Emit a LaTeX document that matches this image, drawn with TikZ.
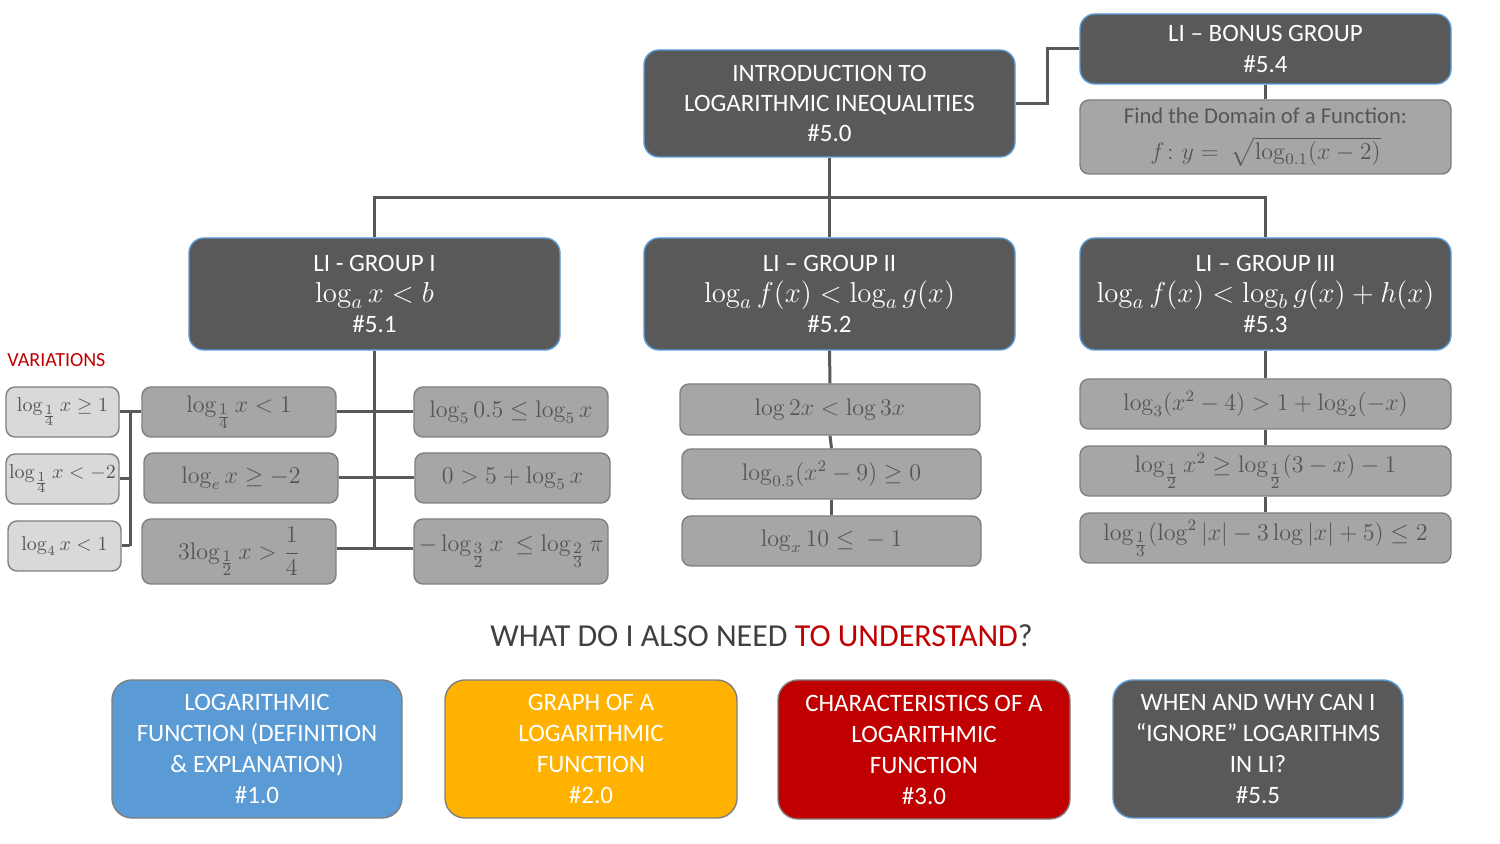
\documentclass[tikz,border=0pt]{standalone}
\usepackage{amsmath}
\usepackage[no-math]{fontspec}
\setmainfont{Carlito}
\definecolor{dk}{HTML}{595959}
\definecolor{edgeblue}{HTML}{5B9BD5}
\definecolor{midgray}{HTML}{A6A6A6}
\definecolor{lightgray}{HTML}{D9D9D9}
\definecolor{bordergray}{HTML}{7F7F7F}
\definecolor{txtgray}{HTML}{555555}
\definecolor{myred}{HTML}{C00000}
\definecolor{myblue}{HTML}{5B9BD5}
\definecolor{myorange}{HTML}{FFB200}
\definecolor{titlegray}{HTML}{404040}
\newcommand\hdrfont{\fontsize{12.5}{15.2}\selectfont}
\newcommand\hdrmath{\fontsize{14.5}{15.2}\selectfont}
\newcommand\boxmath{\fontsize{12}{14}\selectfont}
\newcommand\varmath{\fontsize{10}{12}\selectfont}
\newcommand\botfont{\fontsize{12.5}{15.5}\selectfont}
\newcommand\sfr[2]{\frac{\scriptstyle #1}{\scriptstyle #2}}
\begin{document}
\begin{tikzpicture}[x=0.5pt,y=-0.5pt,
  sz/.style 2 args={minimum width=#1*0.5pt,minimum height=#2*0.5pt},
  darkbox/.style={fill=dk,draw=edgeblue,line width=0.7pt,rounded corners=7.5pt,inner sep=0pt,text=white,align=center,font=\hdrfont},
  graybox/.style={fill=midgray,draw=bordergray,line width=0.7pt,rounded corners=4.5pt,inner sep=0pt,text=txtgray,align=center,font=\boxmath},
  varbox/.style={fill=lightgray,draw=bordergray,line width=0.7pt,rounded corners=4.5pt,inner sep=0pt,text=txtgray,align=center,font=\varmath},
  colbox/.style={fill=#1,draw=bordergray,line width=0.7pt,rounded corners=10pt,inner sep=0pt,text=white,align=center,font=\botfont},
  conn/.style={draw=dk,line width=1.5pt}]
\useasboundingbox (0,0) rectangle (1500,844);

% top
\node[darkbox,sz={371}{107}] (intro) at (829.5,103.5) {INTRODUCTION TO\\LOGARITHMIC INEQUALITIES\\\#5.0};
\node[darkbox,sz={371}{70}] (bonus) at (1265.5,49) {LI -- BONUS GROUP\\\#5.4};
\node[graybox,sz={371}{74},font=\fontsize{11.3}{15}\selectfont] (domain) at (1265.5,137) {Find the Domain of a Function:\\[3pt]{\boxmath$f\colon y=\ \sqrt{\log_{0.1}(x-2)}$}};

% groups
\node[darkbox,sz={371}{112}] (g1) at (374.5,294) {LI - GROUP I\\{\hdrmath$\log_a x<b$}\\\#5.1};
\node[darkbox,sz={371}{112}] (g2) at (829.5,294) {LI -- GROUP II\\{\hdrmath$\log_a f(x)<\log_a g(x)$}\\\#5.2};
\node[darkbox,sz={371}{112}] (g3) at (1265.5,294) {LI -- GROUP III\\{\hdrmath$\log_a f(x)<\log_b g(x)+h(x)$}\\\#5.3};

\node[anchor=west,text=myred,font=\fontsize{10}{12}\selectfont,inner sep=0pt] (var) at (7,360) {VARIATIONS};

% variations
\node[varbox,sz={113}{50}] (v1) at (62.5,412) {$\log_{\sfr{1}{4}} x\geq 1$};
\node[varbox,sz={113}{50}] (v2) at (62.5,479) {$\log_{\sfr{1}{4}} x<-2$};
\node[varbox,sz={113}{50}] (v3) at (64.5,546) {$\log_{4} x<1$};

% group I
\node[graybox,sz={194}{50}] (a1) at (239,412) {$\log_{\sfr{1}{4}} x<1$};
\node[graybox,sz={194}{50}] (a2) at (241,478) {$\log_{e} x\geq -2$};
\node[graybox,sz={194}{65}] (a3) at (239,551.5) {$3\!\log_{\sfr{1}{2}} x>\dfrac{1}{4}$};
\node[graybox,sz={194}{50}] (b1) at (511,412) {$\log_{5}0.5\leq\log_5 x$};
\node[graybox,sz={195}{50}] (b2) at (512.5,478) {$0>5+\log_5 x$};
\node[graybox,sz={194}{65}] (b3) at (511,551.5) {$-\log_{\sfr{3}{2}} x\ \leq\log_{\sfr{2}{3}}\pi$};

% group II
\node[graybox,sz={300}{51}] (m1) at (830,409.5) {$\log 2x<\log 3x$};
\node[graybox,sz={299}{50}] (m2) at (831.5,474) {$\log_{0.5}(x^2-9)\geq 0$};
\node[graybox,sz={299}{50}] (m3) at (831.5,541) {$\log_x 10\leq{}-1$};

% group III
\node[graybox,sz={371}{50}] (r1) at (1265.5,404) {$\log_3(x^2-4)>1+\log_2(-x)$};
\node[graybox,sz={371}{50}] (r2) at (1265.5,471) {$\log_{\sfr{1}{2}} x^2\geq\log_{\sfr{1}{2}}(3-x)-1$};
\node[graybox,sz={371}{50}] (r3) at (1265.5,538) {$\log_{\sfr{1}{3}}(\log^2|x|-3\log|x|+5)\leq 2$};

% title
\node[font=\fontsize{16}{19}\selectfont,text=titlegray,inner sep=0pt] (title) at (761.5,636) {WHAT DO I ALSO NEED \textcolor{myred}{TO UNDERSTAND}?};

% bottom boxes
\node[colbox=myblue,sz={290}{138}] (q1) at (257,749) {LOGARITHMIC\\FUNCTION (DEFINITION\\\& EXPLANATION)\\\#1.0};
\node[colbox=myorange,sz={292}{138}] (q2) at (591,749) {GRAPH OF A\\LOGARITHMIC\\FUNCTION\\\#2.0};
\node[colbox=myred,sz={292}{139}] (q3) at (924,749.5) {CHARACTERISTICS OF A\\LOGARITHMIC\\FUNCTION\\\#3.0};
\node[colbox=dk,draw=edgeblue,sz={290}{138}] (q4) at (1258,749) {WHEN AND WHY CAN I\\``IGNORE'' LOGARITHMS\\IN LI?\\\#5.5};

% connectors
\coordinate (bus) at (829.5,198);
\coordinate (vx) at (130,412);
\coordinate (g1bot) at (374.5,549);
\draw[conn] (intro.east) -- ++(32,0) |- (bonus.west);
\draw[conn] (bonus.south) -- (domain.north);
\draw[conn] (intro.south) -- (g2.north);
\draw[conn] (g1.north) -- (g1.north |- bus) -- (g3.north |- bus) -- (g3.north);
\draw[conn] (g1.south) -- (g1bot);
\draw[conn] (a1.east) -- (b1.west);
\draw[conn] (a2.east) -- (b2.west);
\draw[conn] (a3.east |- g1bot) -- (b3.west |- g1bot);
\draw[conn] (v1.east) -- (a1.west);
\draw[conn] (v1.east -| vx) -- (v3.east -| vx);
\draw[conn] (v2.east) -- (v2.east -| vx);
\draw[conn] (v3.east) -- (v3.east -| vx);
\draw[conn] (g2.south) -- (m1.north);
\draw[conn] (m1.south) -- (m2.north);
\draw[conn] (m2.south) -- (m3.north);
\draw[conn] (g3.south) -- (r1.north);
\draw[conn] (r1.south) -- (r2.north);
\draw[conn] (r2.south) -- (r3.north);
\end{tikzpicture}
\end{document}
